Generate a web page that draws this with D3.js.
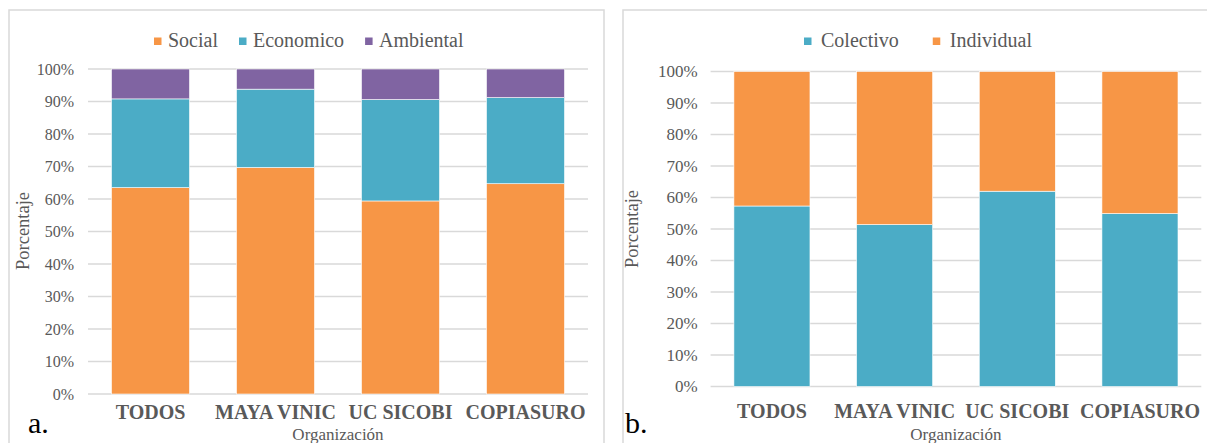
<!DOCTYPE html>
<html>
<head>
<meta charset="utf-8">
<script src="https://cdn.jsdelivr.net/npm/d3@7/dist/d3.min.js"></script>
<style>
  body { margin: 0; background: #fff; }
  svg { display: block; font-family: "Liberation Serif", "Times New Roman", serif; }
</style>
</head>
<body>
<svg width="1207" height="443"></svg>
<script>
// datos
const organizaciones = ["TODOS", "MAYA VINIC", "UC SICOBI", "COPIASURO"];
const social = [63.5, 69.7, 59.4, 64.7];
const economico = [27.3, 24.1, 31.2, 26.5];
const ambiental = [9.2, 6.2, 9.4, 8.8];
const colectivo = [57.3, 51.4, 62.0, 54.9];
const individual = [42.7, 48.6, 38.0, 45.1];
const yTicks = [0, 10, 20, 30, 40, 50, 60, 70, 80, 90, 100];

const naranja = "#F79646", azul = "#4BACC6", morado = "#8064A2";
const gris = "#595959";

const svg = d3.select("svg");

function panel(cfg) {
    const g = svg.append("g");

    // marco
    g.append("rect")
        .attr("x", cfg.box[0]).attr("y", cfg.box[1])
        .attr("width", cfg.box[2]).attr("height", cfg.box[3])
        .attr("fill", "none").attr("stroke", "#d9d9d9").attr("stroke-width", 1.5);

    const rows = organizaciones.map((o, i) => {
        const r = { org: o };
        cfg.series.forEach(s => r[s.name] = s.values[i]);
        return r;
    });
    const stacked = d3.stack().keys(cfg.series.map(s => s.name))(rows);

    const x = d3.scaleBand().domain(organizaciones)
        .range(cfg.xRange).paddingInner(cfg.pad).paddingOuter(cfg.pad / 2);
    const y = d3.scaleLinear().domain([0, 100]).range(cfg.yRange);

    // grid
    g.append("g").selectAll("line").data(yTicks).join("line")
        .attr("x1", cfg.xRange[0]).attr("x2", cfg.xRange[1])
        .attr("y1", d => y(d)).attr("y2", d => y(d))
        .attr("stroke", "#d9d9d9").attr("stroke-width", 1.5);

    // eje y
    const ay = g.append("g")
        .attr("transform", `translate(${cfg.xRange[0]},0)`)
        .call(d3.axisLeft(y).tickValues(yTicks).tickFormat(d => d + "%").tickSize(0).tickPadding(cfg.tickPad));
    ay.select(".domain").remove();
    ay.attr("font-family", null);
    ay.selectAll("text")
        .attr("font-size", cfg.tickFont).attr("fill", gris);

    // barras
    g.append("g").selectAll("g").data(stacked).join("g")
        .attr("fill", (d, i) => cfg.series[i].color)
        .selectAll("rect").data(d => d).join("rect")
        .attr("x", d => x(d.data.org))
        .attr("width", x.bandwidth())
        .attr("y", d => y(d[1]))
        .attr("height", d => y(d[0]) - y(d[1]))
        .attr("stroke", "#fff").attr("stroke-width", 0.6);

    // eje x
    const ax = g.append("g")
        .attr("transform", `translate(0,${cfg.yRange[0]})`)
        .call(d3.axisBottom(x).tickSize(0));
    ax.select(".domain").remove();
    ax.attr("font-family", null);
    ax.selectAll("text")
        .attr("y", cfg.catY - cfg.yRange[0]).attr("dy", 0)
        .attr("font-size", 20).attr("font-weight", "bold").attr("fill", gris);

    // titulos
    const cx = (cfg.xRange[0] + cfg.xRange[1]) / 2;
    g.append("text").text("Organización")
        .attr("x", cx).attr("y", 439.5)
        .attr("text-anchor", "middle").attr("font-size", 17).attr("fill", gris);

    g.append("text").text("Porcentaje")
        .attr("transform", `translate(${cfg.yTitleX},${cfg.yTitleY}) rotate(-90)`)
        .attr("text-anchor", "middle").attr("font-size", 18.5).attr("fill", gris);

    g.append("text").text(cfg.letra)
        .attr("x", cfg.letraX).attr("y", 433)
        .attr("font-size", 30).attr("fill", "#000");

    // leyenda
    let lx = cfg.legX;
    cfg.legend.forEach(s => {
        g.append("rect")
            .attr("x", lx).attr("y", 37.5).attr("width", 7.5).attr("height", 7.5)
            .attr("fill", s.color);
        const t = g.append("text").text(s.name)
            .attr("x", lx + cfg.legTextOff).attr("y", 47)
            .attr("font-size", 20).attr("fill", gris);
        lx += cfg.legTextOff + t.node().getComputedTextLength() + cfg.legGap;
    });
}

panel({
    box: [9, 10, 595, 445],
    xRange: [88, 588], yRange: [394, 69], pad: 0.376,
    tickPad: 14, tickFont: 16, catY: 419,
    yTitleX: 29, yTitleY: 231,
    letra: "a.", letraX: 28,
    series: [
        { name: "Social", values: social, color: naranja },
        { name: "Economico", values: economico, color: azul },
        { name: "Ambiental", values: ambiental, color: morado }
    ],
    legend: [
        { name: "Social", color: naranja },
        { name: "Economico", color: azul },
        { name: "Ambiental", color: morado }
    ],
    legX: 154, legTextOff: 14, legGap: 21
});

panel({
    box: [623, 10, 600, 445],
    xRange: [710.6, 1201.3], yRange: [386.5, 71.5], pad: 0.38,
    tickPad: 13, tickFont: 17, catY: 418,
    yTitleX: 638, yTitleY: 229,
    letra: "b.", letraX: 625,
    series: [
        { name: "Colectivo", values: colectivo, color: azul },
        { name: "Individual", values: individual, color: naranja }
    ],
    legend: [
        { name: "Colectivo", color: azul },
        { name: "Individual", color: naranja }
    ],
    legX: 804, legTextOff: 17, legGap: 34
});
</script>
</body>
</html>
